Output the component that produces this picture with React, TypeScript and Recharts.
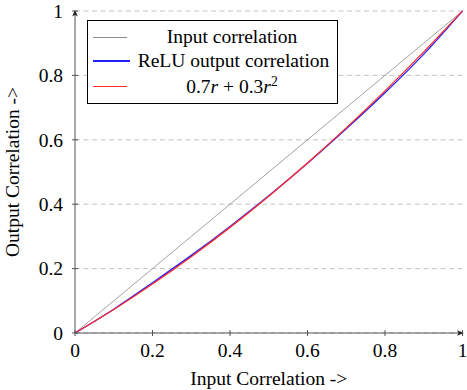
import React from "react";
import { LineChart, Line, XAxis, YAxis, CartesianGrid, Legend } from "recharts";

// values
const inputR = [0, 0.1, 0.2, 0.3, 0.4, 0.5, 0.6, 0.7, 0.8, 0.9, 1];
const inputCorrelation = [0, 0.1, 0.2, 0.3, 0.4, 0.5, 0.6, 0.7, 0.8, 0.9, 1];
const reluCorrelation = [0, 0.074, 0.156, 0.241, 0.331, 0.426, 0.527, 0.634, 0.746, 0.866, 1];
const fitCorrelation = [0, 0.073, 0.152, 0.237, 0.328, 0.425, 0.528, 0.637, 0.752, 0.873, 1];
const axisTicks = [0, 0.2, 0.4, 0.6, 0.8, 1];
const seriesNames = ["Input correlation", "ReLU output correlation", "0.7r + 0.3r^2"];
const seriesColors = ["#8a8a8a", "#2020ff", "#ff2a2a"];

const FONT = "'Liberation Serif', 'Times New Roman', serif";
const AXIS = "#555";
const textStyle = { fontFamily: FONT, fontSize: 19.5 };

const data = inputR.map((r, i) => ({
  r,
  input: inputCorrelation[i],
  relu: reluCorrelation[i],
  fit: fitCorrelation[i],
}));

const XTick = ({ x, y, payload }: any) => (
  <g>
    <line x1={x} x2={x} y1={y - 3} y2={y + 3} stroke={AXIS} />
    <text x={x} y={y + 24} textAnchor="middle" style={textStyle} fill="#000">
      {String(payload.value)}
    </text>
  </g>
);

const YTick = ({ x, y, payload }: any) => (
  <g>
    <line x1={x - 3} x2={x + 3} y1={y} y2={y} stroke={AXIS} />
    <text x={x - 12} y={y} dy="0.35em" textAnchor="end" style={textStyle} fill="#000">
      {String(payload.value)}
    </text>
  </g>
);

const FitLabel = () => (
  <span>
    0.7<i>r</i> + 0.3<i>r</i>
    <sup style={{ fontSize: "0.7em", lineHeight: 0, verticalAlign: "super" }}>2</sup>
  </span>
);

const LegendBox = () => (
  <div
    style={{
      ...textStyle,
      border: "1px solid #000",
      background: "#fff",
      width: 249,
      padding: "4px 0 3px 0",
      color: "#000",
    }}
  >
    {seriesNames.map((name, i) => (
      <div
        key={name}
        style={{ display: "flex", alignItems: "center", height: i === 2 ? 27 : 24 }}
      >
        <div
          style={{
            marginLeft: 5,
            width: i === 1 ? 37 : 34,
            height: i === 0 ? 1 : 1.5,
            background: seriesColors[i],
          }}
        />
        <div style={{ flex: 1, textAlign: "center", whiteSpace: "nowrap", lineHeight: "24px", fontFamily: FONT }}>
          {i === 2 ? <FitLabel /> : name}
        </div>
      </div>
    ))}
  </div>
);

export default function App() {
  return (
    <div style={{ position: "absolute", left: 0, top: 0, width: 467, height: 390, background: "#fff", fontFamily: FONT }}>
      <svg width={0} height={0} style={{ position: "absolute" }}>
        <defs>
          <marker
            id="axisArrow"
            viewBox="0 0 10 10"
            refX={8}
            refY={5}
            markerWidth={7}
            markerHeight={7}
            markerUnits="userSpaceOnUse"
            orient="auto-start-reverse"
          >
            <path d="M0,1 L10,5 L0,9 L2.5,5 z" fill="#222" />
          </marker>
        </defs>
      </svg>
      <LineChart
        width={467}
        height={390}
        data={data}
        margin={{ top: 11, right: 4.5, left: 0, bottom: 0 }}
        style={{ fontFamily: FONT }}
      >
        <CartesianGrid vertical={false} stroke="#c4c4c4" strokeDasharray="5 3.5" />
        <XAxis
          dataKey="r"
          type="number"
          domain={[0, 1]}
          ticks={axisTicks}
          tick={<XTick />}
          tickLine={false}
          tickSize={0}
          tickMargin={0}
          height={57}
          axisLine={{ stroke: AXIS, strokeWidth: 1, markerEnd: "url(#axisArrow)" }}
          label={{
            value: "Input Correlation ->",
            position: "insideBottom",
            offset: 5,
            fontFamily: FONT,
            fontSize: 19.5,
            fill: "#000",
          }}
        />
        <YAxis
          type="number"
          domain={[0, 1]}
          ticks={axisTicks}
          tick={<YTick />}
          tickLine={false}
          tickSize={0}
          tickMargin={0}
          width={75}
          axisLine={{ stroke: AXIS, strokeWidth: 1, markerStart: "url(#axisArrow)" }}
          label={{
            value: "Output Correlation ->",
            angle: -90,
            position: "insideLeft",
            offset: 12,
            fontFamily: FONT,
            fontSize: 19.5,
            fill: "#000",
            style: { textAnchor: "middle" },
          }}
        />
        <Legend
          layout="horizontal"
          verticalAlign="middle"
          align="center"
          content={<LegendBox />}
          wrapperStyle={{ left: 87, top: 20, width: 251 }}
        />
        <Line
          type="monotone"
          dataKey="input"
          name={seriesNames[0]}
          stroke={seriesColors[0]}
          strokeWidth={0.8}
          dot={false}
          isAnimationActive={false}
        />
        <Line
          type="monotone"
          dataKey="relu"
          name={seriesNames[1]}
          stroke={seriesColors[1]}
          strokeWidth={1.3}
          dot={false}
          isAnimationActive={false}
        />
        <Line
          type="monotone"
          dataKey="fit"
          name={seriesNames[2]}
          stroke={seriesColors[2]}
          strokeWidth={1.3}
          dot={false}
          isAnimationActive={false}
        />
      </LineChart>
    </div>
  );
}
